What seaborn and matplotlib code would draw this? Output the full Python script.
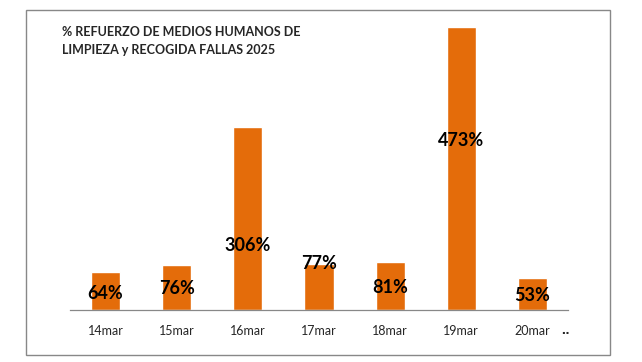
import matplotlib.pyplot as plt
import seaborn as sns
import pandas as pd
import numpy as np
from matplotlib.patches import Rectangle

# Data
days = ['14mar', '15mar', '16mar', '17mar', '18mar', '19mar', '20mar']
refuerzo = [64, 76, 306, 77, 81, 473, 53]
# vertical placement of each label, as fraction of its bar
label_frac = [0.44, 0.48, 0.35, 1.02, 0.47, 0.6, 0.47]

df = pd.DataFrame({'day': days, 'pct': refuerzo})

sns.set_style('white')
plt.rcParams['font.family'] = ['Lato', 'DejaVu Sans']

fig = plt.figure(figsize=(6.42, 3.62), dpi=100)
ax = fig.add_axes([70 / 642, 1 - 310 / 362, 498 / 642, 290 / 362])

sns.barplot(data=df, x='day', y='pct', color='#E46C0A', width=0.41,
            saturation=1, ax=ax)

for i, (v, f) in enumerate(zip(refuerzo, label_frac)):
    ax.text(i, v * f, f'{v}%', ha='center', va='center',
            fontsize=13, fontweight='bold', color='black')

ax.set_xlim(-0.5, len(days) - 0.5)
ax.set_ylim(0, 485)
ax.set_xlabel('')
ax.set_ylabel('')
ax.set_yticks([])
for s in ['top', 'right', 'left']:
    ax.spines[s].set_visible(False)
ax.spines['bottom'].set_color('#888888')
ax.spines['bottom'].set_linewidth(0.9)
ax.set_xticks(np.arange(-0.5, len(days)), minor=True)
ax.tick_params(axis='x', which='major', length=0, pad=11, labelsize=9)
ax.tick_params(axis='x', which='minor', length=4, color='#888888',
               direction='out', width=0.9)

fig.text(62 / 642, 1 - 32 / 362, '% REFUERZO DE MEDIOS HUMANOS DE',
         fontsize=9, fontweight='bold', va='center')
fig.text(62 / 642, 1 - 50 / 362, 'LIMPIEZA y RECOGIDA FALLAS 2025',
         fontsize=9, fontweight='bold', va='center')
fig.text(565 / 642, 1 - 330 / 362, '‥', fontsize=8, fontweight='bold',
         va='center', ha='center')

fig.patches.append(Rectangle((26 / 642, 1 - 355 / 362), 584 / 642, 345 / 362,
                             transform=fig.transFigure, fill=False,
                             edgecolor='#888888', linewidth=1))

fig.savefig('out.png', dpi=100)
